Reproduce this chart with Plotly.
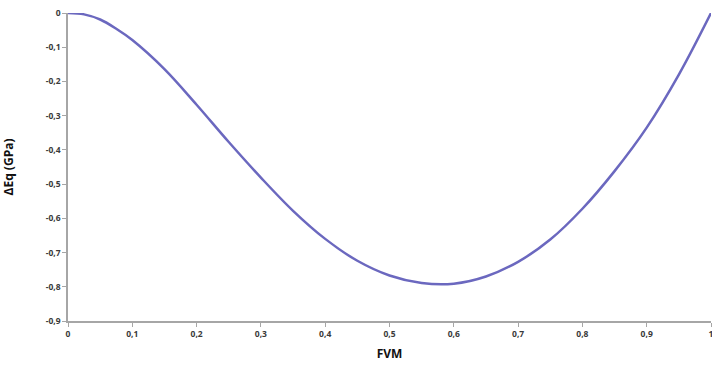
import plotly.graph_objects as go

fvm = [0.00, 0.025, 0.05, 0.075, 0.10, 0.15, 0.20, 0.25, 0.30, 0.35, 0.40, 0.45, 0.50,
       0.55, 0.60, 0.65, 0.70, 0.75, 0.80, 0.85, 0.90, 0.95, 1.00]
delta_eq = [0.000, -0.004, -0.019, -0.046, -0.079, -0.164, -0.268, -0.377, -0.481, -0.578, -0.660, -0.724, -0.767,
            -0.789, -0.791, -0.770, -0.727, -0.662, -0.572, -0.462, -0.335, -0.180, 0.000]

x_ticks = [0, 0.1, 0.2, 0.3, 0.4, 0.5, 0.6, 0.7, 0.8, 0.9, 1]
x_tick_text = ["0", "0,1", "0,2", "0,3", "0,4", "0,5", "0,6", "0,7", "0,8", "0,9", "1"]
y_ticks = [0, -0.1, -0.2, -0.3, -0.4, -0.5, -0.6, -0.7, -0.8, -0.9]
y_tick_text = ["0", "-0,1", "-0,2", "-0,3", "-0,4", "-0,5", "-0,6", "-0,7", "-0,8", "-0,9"]

fig = go.Figure()
fig.add_trace(go.Scatter(
    x=fvm, y=delta_eq, mode="lines",
    line=dict(color="#6b68bf", width=2.5, shape="spline", smoothing=1.0),
    showlegend=False, hoverinfo="x+y",
))

tickfont = dict(family="Open Sans, Liberation Sans, sans-serif", size=8.5, color="#3a3a3a", weight="bold")
titlefont = dict(family="Open Sans, Liberation Sans, sans-serif", size=12, color="#111111", weight="bold")

fig.update_layout(
    width=712, height=369,
    margin=dict(l=68, r=1, t=13, b=48),
    paper_bgcolor="white", plot_bgcolor="white",
    template="none",
    xaxis=dict(
        range=[0, 1], tickvals=x_ticks, ticktext=x_tick_text,
        showgrid=False, zeroline=False, showline=True, linecolor="#a6a6a6", linewidth=1.5,
        ticks="outside", ticklen=4, tickcolor="#a6a6a6", tickwidth=1,
        tickfont=tickfont, automargin=False, ticklabeloverflow="allow",
        title=dict(text="FVM", font=titlefont, standoff=12),
    ),
    yaxis=dict(
        range=[-0.9, 0], tickvals=y_ticks, ticktext=y_tick_text,
        showgrid=False, zeroline=False, showline=True, linecolor="#a6a6a6", linewidth=1.5,
        ticks="outside", ticklen=4, tickcolor="#a6a6a6", tickwidth=1,
        tickfont=tickfont, automargin=False, ticklabeloverflow="allow",
        title=dict(text="ΔEq (GPa)", font=titlefont, standoff=34),
    ),
)

fig.write_html("out.html")
